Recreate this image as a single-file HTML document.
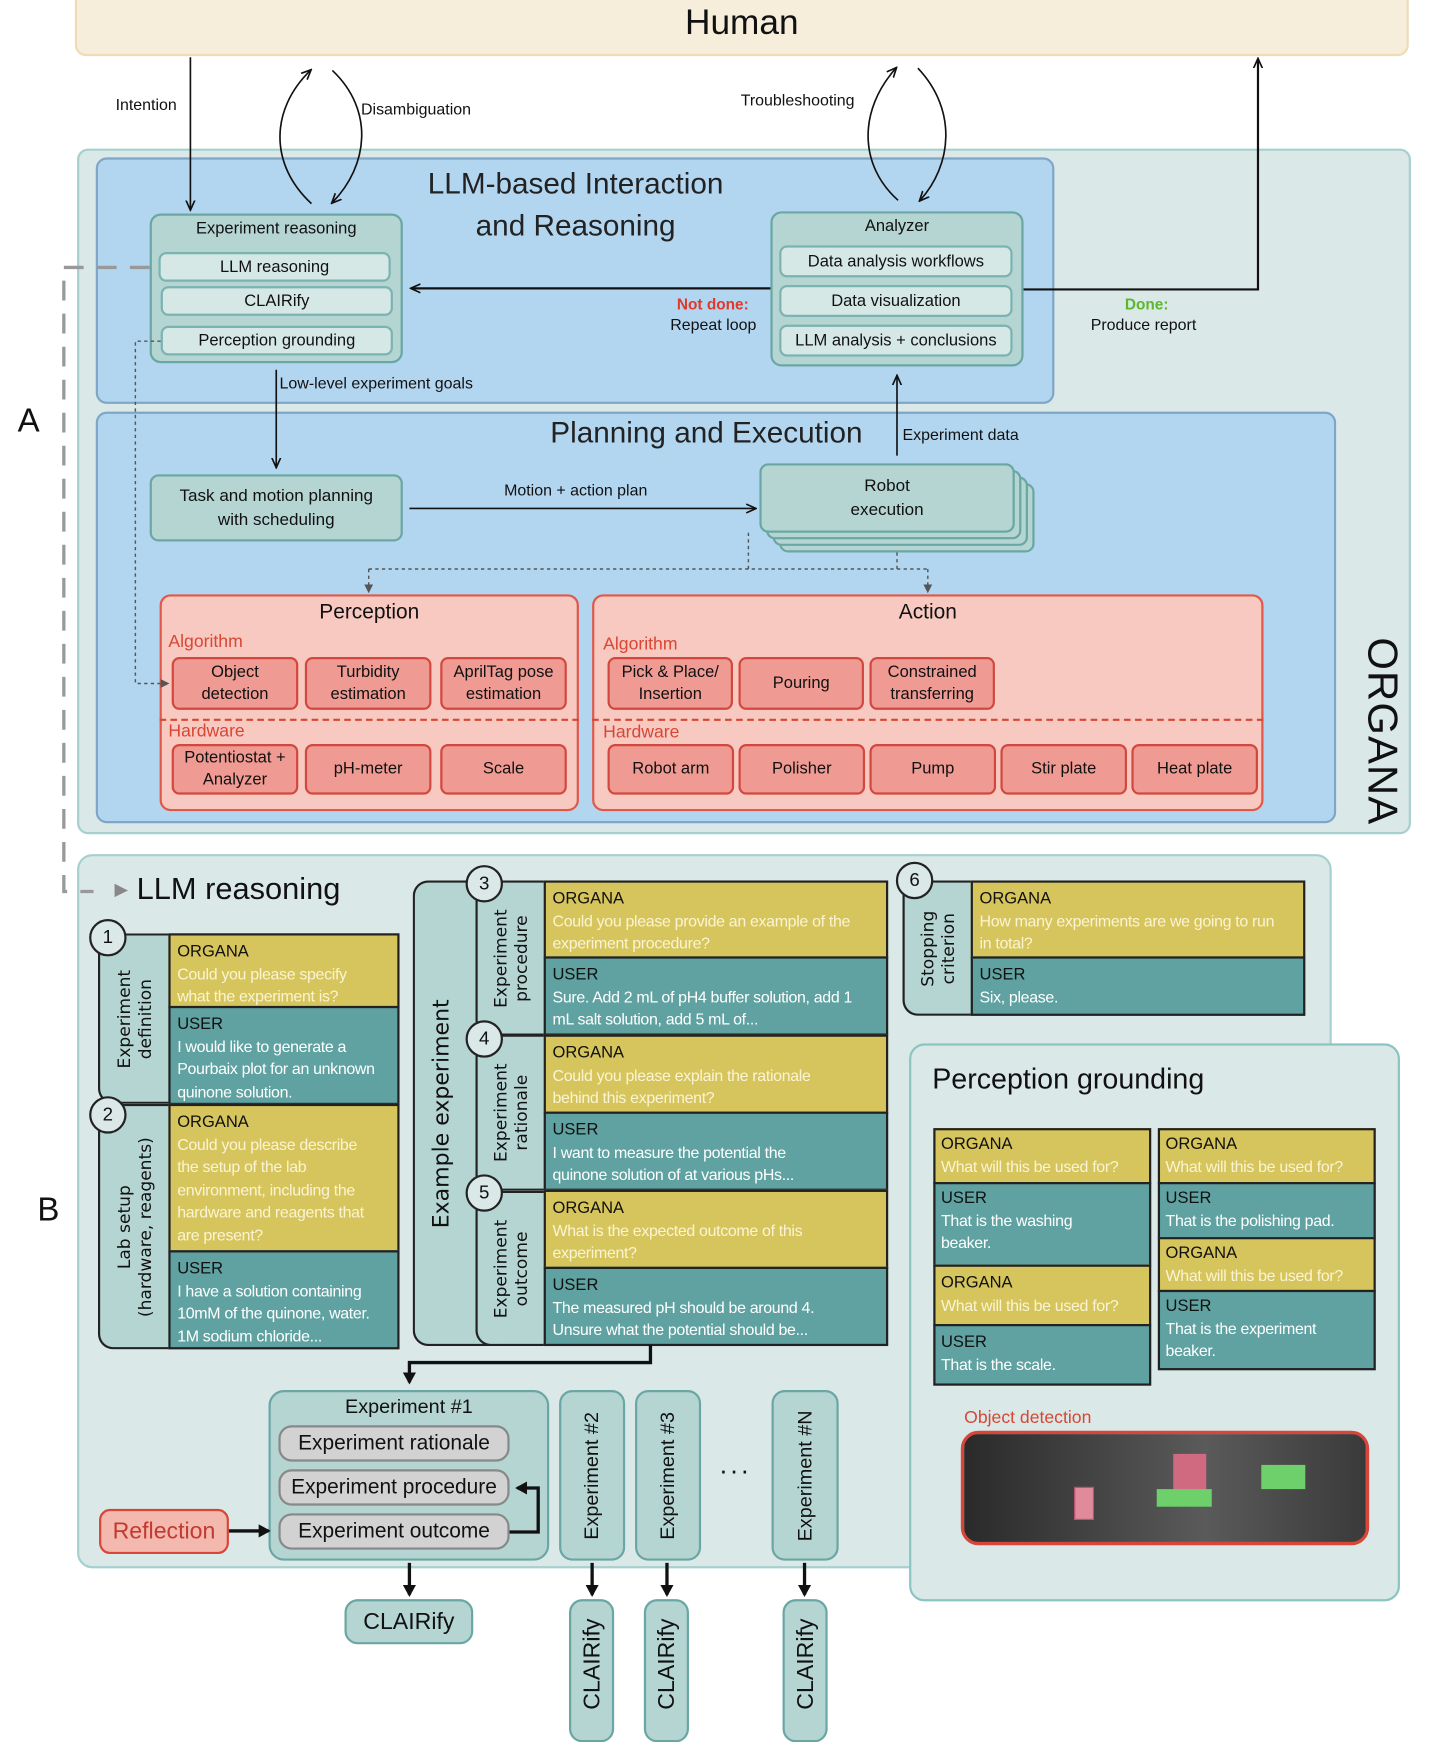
<!DOCTYPE html>
<html><head><meta charset="utf-8">
<style>
*{box-sizing:border-box;margin:0;padding:0}
html,body{width:1432px;height:1726px;overflow:hidden;background:#fff}
#w{position:absolute;left:0;top:0;width:1302px;height:1569px;transform:scale(1.1006);transform-origin:0 0;font-family:"Liberation Sans",sans-serif;color:#111}
.a{position:absolute}
.t{position:absolute;white-space:nowrap}
.box{position:absolute;border-radius:10px}
.teal{background:#b5d5d3;border:2px solid #6aa6a3}
.item{position:absolute;background:#d6e8e6;border:2px solid #7ab3b0;border-radius:7px;font-size:15px;text-align:center;display:flex;align-items:center;justify-content:center}
.pk{position:absolute;background:#ef9a92;border:2px solid #d2483e;border-radius:7px;font-size:15px;text-align:center;display:flex;align-items:center;justify-content:center;line-height:20px}
.red{color:#d84634;font-size:16px}
.c{position:absolute;display:flex;align-items:center;justify-content:center;text-align:center}
.y{position:absolute;background:#d6c55c;border:2px solid #222;padding:5px 6px;font-size:14.5px;line-height:20.5px;color:#fbf4d4;letter-spacing:-0.3px}
.g{position:absolute;background:#5fa2a1;border:2px solid #222;padding:5px 6px;font-size:14.5px;line-height:20.5px;color:#fff;letter-spacing:-0.3px}
.y b,.g b{display:block;color:#111;font-weight:normal;font-size:15px;letter-spacing:0}
.strip{position:absolute;background:#b5d5d3;border:2px solid #222;border-right:none;border-radius:14px 0 0 14px}
.vl{position:absolute;left:50%;top:50%;transform:translate(-50%,-50%) rotate(-90deg);white-space:nowrap;text-align:center;font-family:"DejaVu Sans",sans-serif;font-size:15.5px;line-height:19px}
.circ{position:absolute;width:34px;height:34px;border-radius:50%;background:#dae8e8;border:2px solid #222;font-size:17px;display:flex;align-items:center;justify-content:center}
.gray{position:absolute;background:#d2d2d2;border:2px solid #888;border-radius:12px;font-size:19px;display:flex;align-items:center;justify-content:center}
.clv{position:absolute;background:#b5d5d3;border:2px solid #6aa6a3;border-radius:12px}
</style></head><body><div id="w">

<div class="box" style="left:68px;top:-12px;width:1212px;height:63px;background:#f6eddb;border:2px solid #efdcb4"></div>
<div class="t" style="left:0;width:1348px;top:2px;text-align:center;font-size:32px">Human</div>

<div class="box" style="left:70px;top:135px;width:1212px;height:623px;background:#dae8e8;border:2px solid #a6d0cf"></div>
<div class="t" style="left:1165px;top:643px;font-size:38px;transform:rotate(90deg);transform-origin:center;width:180px;text-align:center;letter-spacing:1px">ORGANA</div>

<div class="box" style="left:87px;top:143px;width:871px;height:224px;background:#b3d6f0;border:2px solid #7fa6c6"></div>
<div class="t" style="left:330px;width:386px;top:148px;text-align:center;font-size:27px;line-height:38px;color:#222">LLM-based Interaction<br>and Reasoning</div>

<div class="box" style="left:87px;top:374px;width:1127px;height:374px;background:#b3d6f0;border:2px solid #7fa6c6"></div>
<div class="t" style="left:500px;top:378px;font-size:27px;color:#222">Planning and Execution</div>

<div class="box teal" style="left:136px;top:194px;width:230px;height:136px"></div>
<div class="t" style="left:136px;width:230px;top:199px;text-align:center;font-size:15px">Experiment reasoning</div>
<div class="item" style="left:144px;top:229px;width:211px;height:27px">LLM reasoning</div>
<div class="item" style="left:146px;top:260px;width:211px;height:27px">CLAIRify</div>
<div class="item" style="left:146px;top:296px;width:211px;height:27px">Perception grounding</div>

<div class="box teal" style="left:700px;top:192px;width:230px;height:141px"></div>
<div class="t" style="left:700px;width:230px;top:197px;text-align:center;font-size:15px">Analyzer</div>
<div class="item" style="left:708px;top:223px;width:212px;height:29px">Data analysis workflows</div>
<div class="item" style="left:708px;top:259px;width:212px;height:29px">Data visualization</div>
<div class="item" style="left:708px;top:295px;width:212px;height:29px">LLM analysis + conclusions</div>

<div class="t" style="left:615px;top:268px;font-size:14px;color:#e0392a;font-weight:bold">Not done:</div>
<div class="t" style="left:609px;top:288px;font-size:14.5px">Repeat loop</div>
<div class="t" style="left:1022px;top:268px;font-size:14px;color:#5cb82e;font-weight:bold">Done:</div>
<div class="t" style="left:991px;top:288px;font-size:14.5px">Produce report</div>
<div class="t" style="left:105px;top:88px;font-size:14.5px">Intention</div>
<div class="t" style="left:328px;top:92px;font-size:14.5px">Disambiguation</div>
<div class="t" style="left:673px;top:84px;font-size:14.5px">Troubleshooting</div>
<div class="t" style="left:254px;top:341px;font-size:14.5px">Low-level experiment goals</div>
<div class="t" style="left:820px;top:388px;font-size:14.5px">Experiment data</div>
<div class="t" style="left:458px;top:438px;font-size:14.5px">Motion + action plan</div>

<div class="box teal c" style="left:136px;top:431px;width:230px;height:61px;font-size:15.5px;line-height:22px;border-radius:8px">Task and motion planning<br>with scheduling</div>
<div class="box teal" style="left:708px;top:439px;width:232px;height:63px;border-radius:8px"></div>
<div class="box teal" style="left:702px;top:433px;width:232px;height:63px;border-radius:8px"></div>
<div class="box teal" style="left:696px;top:427px;width:232px;height:63px;border-radius:8px"></div>
<div class="box teal c" style="left:690px;top:421px;width:232px;height:63px;font-size:15.5px;line-height:22px;border-radius:8px">Robot<br>execution</div>

<div class="box" style="left:145px;top:540px;width:381px;height:197px;background:#f7c9c1;border:2px solid #e0584a"></div>
<div class="t" style="left:145px;width:381px;top:546px;text-align:center;font-size:19px">Perception</div>
<div class="t red" style="left:153px;top:575px">Algorithm</div>
<div class="pk" style="left:156px;top:597px;width:115px;height:48px">Object<br>detection</div>
<div class="pk" style="left:277px;top:597px;width:115px;height:48px">Turbidity<br>estimation</div>
<div class="pk" style="left:400px;top:597px;width:115px;height:48px">AprilTag pose<br>estimation</div>
<div class="a" style="left:145px;top:653px;width:381px;border-top:2px dashed #d84634"></div>
<div class="t red" style="left:153px;top:656px">Hardware</div>
<div class="pk" style="left:156px;top:676px;width:115px;height:46px">Potentiostat +<br>Analyzer</div>
<div class="pk" style="left:277px;top:676px;width:115px;height:46px">pH-meter</div>
<div class="pk" style="left:400px;top:676px;width:115px;height:46px">Scale</div>

<div class="box" style="left:538px;top:540px;width:610px;height:197px;background:#f7c9c1;border:2px solid #e0584a"></div>
<div class="t" style="left:538px;width:610px;top:546px;text-align:center;font-size:19px">Action</div>
<div class="t red" style="left:548px;top:577px">Algorithm</div>
<div class="pk" style="left:552px;top:597px;width:114px;height:48px">Pick &amp; Place/<br>Insertion</div>
<div class="pk" style="left:671px;top:597px;width:114px;height:48px">Pouring</div>
<div class="pk" style="left:790px;top:597px;width:114px;height:48px">Constrained<br>transferring</div>
<div class="a" style="left:538px;top:653px;width:610px;border-top:2px dashed #d84634"></div>
<div class="t red" style="left:548px;top:657px">Hardware</div>
<div class="pk" style="left:552px;top:676px;width:115px;height:46px">Robot arm</div>
<div class="pk" style="left:671px;top:676px;width:115px;height:46px">Polisher</div>
<div class="pk" style="left:790px;top:676px;width:115px;height:46px">Pump</div>
<div class="pk" style="left:909px;top:676px;width:115px;height:46px">Stir plate</div>
<div class="pk" style="left:1028px;top:676px;width:115px;height:46px">Heat plate</div>

<div class="t" style="left:16px;top:366px;font-size:30px">A</div>
<div class="t" style="left:34px;top:1083px;font-size:30px">B</div>

<div class="box" style="left:70px;top:776px;width:1140px;height:649px;background:#dae8e8;border:2px solid #a6d0cf;border-radius:14px"></div>
<div class="t" style="left:104px;top:792px;font-size:28px"><span style="font-size:16px;color:#888;vertical-align:4px">▶</span> LLM reasoning</div>

<div class="strip" style="left:89px;top:848px;width:65px;height:155px"><div class="vl">Experiment<br>definition</div></div>
<div class="y" style="left:153px;top:848px;width:210px;height:68px;padding-right:20px"><b>ORGANA</b>Could you please specify what the experiment is?</div>
<div class="g" style="left:153px;top:914px;width:210px;height:90px"><b>USER</b>I would like to generate a Pourbaix plot for an unknown quinone solution.</div>
<div class="circ" style="left:81px;top:835px">1</div>
<div class="strip" style="left:89px;top:1003px;width:65px;height:223px"><div class="vl">Lab setup<br>(hardware, reagents)</div></div>
<div class="y" style="left:153px;top:1003px;width:210px;height:135px;padding-right:14px"><b>ORGANA</b>Could you please describe the setup of the lab environment, including the hardware and reagents that are present?</div>
<div class="g" style="left:153px;top:1136px;width:210px;height:90px"><b>USER</b>I have a solution containing 10mM of the quinone, water. 1M sodium chloride...</div>
<div class="circ" style="left:81px;top:996px">2</div>

<div class="a" style="left:375px;top:800px;width:80px;height:423px;background:#b5d5d3;border:2px solid #222;border-right:none;border-radius:14px 0 0 14px"><div class="vl" style="font-size:20px;left:24px">Example experiment</div></div>
<div class="strip" style="left:432px;top:800px;width:63px;height:141px"><div class="vl">Experiment<br>procedure</div></div>
<div class="strip" style="left:432px;top:940px;width:63px;height:142px"><div class="vl">Experiment<br>rationale</div></div>
<div class="strip" style="left:432px;top:1082px;width:63px;height:141px"><div class="vl">Experiment<br>outcome</div></div>
<div class="y" style="left:494px;top:800px;width:313px;height:71px;padding-right:24px"><b>ORGANA</b>Could you please provide an example of the experiment procedure?</div>
<div class="g" style="left:494px;top:869px;width:313px;height:72px;padding-right:14px"><b>USER</b>Sure. Add 2 mL of pH4 buffer solution, add 1 mL salt solution, add 5 mL of...</div>
<div class="y" style="left:494px;top:940px;width:313px;height:72px;padding-right:24px"><b>ORGANA</b>Could you please explain the rationale behind this experiment?</div>
<div class="g" style="left:494px;top:1010px;width:313px;height:72px;padding-right:40px"><b>USER</b>I want to measure the potential the quinone solution of at various pHs...</div>
<div class="y" style="left:494px;top:1081px;width:313px;height:72px;padding-right:40px"><b>ORGANA</b>What is the expected outcome of this experiment?</div>
<div class="g" style="left:494px;top:1151px;width:313px;height:72px;padding-right:30px"><b>USER</b>The measured pH should be around 4. Unsure what the potential should be...</div>
<div class="circ" style="left:423px;top:786px">3</div>
<div class="circ" style="left:423px;top:927px">4</div>
<div class="circ" style="left:423px;top:1067px">5</div>

<div class="strip" style="left:820px;top:800px;width:63px;height:123px"><div class="vl">Stopping<br>criterion</div></div>
<div class="y" style="left:882px;top:800px;width:304px;height:71px;padding-right:20px"><b>ORGANA</b>How many experiments are we going to run in total?</div>
<div class="g" style="left:882px;top:869px;width:304px;height:54px"><b>USER</b>Six, please.</div>
<div class="circ" style="left:814px;top:783px">6</div>

<div class="box" style="left:826px;top:948px;width:446px;height:507px;background:#dae8e8;border:2px solid #8cc4c2;border-radius:14px"></div>
<div class="t" style="left:847px;top:965px;font-size:26px">Perception grounding</div>
<div class="y" style="left:848px;top:1025px;width:198px;height:51px;padding:3px 5px"><b>ORGANA</b>What will this be used for?</div>
<div class="g" style="left:848px;top:1074px;width:198px;height:77px;padding:3px 40px 3px 5px"><b>USER</b>That is the washing beaker.</div>
<div class="y" style="left:848px;top:1149px;width:198px;height:56px;padding:5px 5px"><b>ORGANA</b>What will this be used for?</div>
<div class="g" style="left:848px;top:1203px;width:198px;height:56px;padding:5px 5px"><b>USER</b>That is the scale.</div>
<div class="y" style="left:1052px;top:1025px;width:198px;height:51px;padding:3px 5px"><b>ORGANA</b>What will this be used for?</div>
<div class="g" style="left:1052px;top:1074px;width:198px;height:52px;padding:3px 5px"><b>USER</b>That is the polishing pad.</div>
<div class="y" style="left:1052px;top:1124px;width:198px;height:50px;padding:3px 5px"><b>ORGANA</b>What will this be used for?</div>
<div class="g" style="left:1052px;top:1172px;width:198px;height:73px;padding:3px 5px"><b>USER</b>That is the experiment beaker.</div>
<div class="t" style="left:876px;top:1280px;font-size:16px;color:#d84634">Object detection</div>
<div class="box" style="left:873px;top:1300px;width:371px;height:104px;background:linear-gradient(90deg,#2a2a2a,#4a4a4a 40%,#5a5a5a 60%,#3a3a3a);border:3px solid #d8463a;border-radius:16px;overflow:hidden">
 <div class="a" style="left:100px;top:48px;width:18px;height:30px;background:#e08a9a;border:1px solid #c05070"></div>
 <div class="a" style="left:190px;top:18px;width:30px;height:40px;background:#d06a80"></div>
 <div class="a" style="left:175px;top:50px;width:50px;height:16px;background:#6ed06a"></div>
 <div class="a" style="left:270px;top:28px;width:40px;height:22px;background:#6ed06a"></div>
</div>

<div class="box" style="left:244px;top:1263px;width:255px;height:155px;background:#b5d5d3;border:2px solid #6aa6a3;border-radius:14px"></div>
<div class="t" style="left:244px;width:255px;top:1268px;text-align:center;font-size:18px">Experiment #1</div>
<div class="gray" style="left:253px;top:1295px;width:210px;height:33px">Experiment rationale</div>
<div class="gray" style="left:253px;top:1335px;width:210px;height:33px">Experiment procedure</div>
<div class="gray" style="left:253px;top:1375px;width:210px;height:33px">Experiment outcome</div>
<div class="box c" style="left:90px;top:1371px;width:118px;height:41px;background:#f3b8ae;border:2px solid #d8463a;color:#c23a30;font-size:21px">Reflection</div>
<div class="clv" style="left:508px;top:1263px;width:60px;height:155px"><div class="vl" style="font-family:'Liberation Sans',sans-serif;font-size:18px">Experiment #2</div></div>
<div class="clv" style="left:577px;top:1263px;width:60px;height:155px"><div class="vl" style="font-family:'Liberation Sans',sans-serif;font-size:18px">Experiment #3</div></div>
<div class="t" style="left:654px;top:1318px;font-size:24px;letter-spacing:3px">...</div>
<div class="clv" style="left:701px;top:1263px;width:61px;height:155px"><div class="vl" style="font-family:'Liberation Sans',sans-serif;font-size:18px">Experiment #N</div></div>

<div class="box c" style="left:313px;top:1453px;width:117px;height:41px;background:#b5d5d3;border:2px solid #6aa6a3;border-radius:12px;font-size:21px">CLAIRify</div>
<div class="clv" style="left:517px;top:1453px;width:41px;height:130px"><div class="vl" style="font-family:'Liberation Sans',sans-serif;font-size:21px;top:45%">CLAIRify</div></div>
<div class="clv" style="left:585px;top:1453px;width:41px;height:130px"><div class="vl" style="font-family:'Liberation Sans',sans-serif;font-size:21px;top:45%">CLAIRify</div></div>
<div class="clv" style="left:711px;top:1453px;width:41px;height:130px"><div class="vl" style="font-family:'Liberation Sans',sans-serif;font-size:21px;top:45%">CLAIRify</div></div>

<svg class="a" style="left:0;top:0" width="1302" height="1569" viewBox="0 0 1302 1569">
<defs>
<marker id="ar" markerWidth="10" markerHeight="10" refX="8" refY="5" orient="auto" markerUnits="userSpaceOnUse"><path d="M0,1 L9,5 L0,9" fill="none" stroke="#111" stroke-width="1.5"/></marker>
<marker id="af" markerWidth="12" markerHeight="12" refX="9" refY="6" orient="auto" markerUnits="userSpaceOnUse"><path d="M0,0 L11,6 L0,12 z" fill="#111"/></marker>
<marker id="ad" markerWidth="8" markerHeight="8" refX="7" refY="4" orient="auto" markerUnits="userSpaceOnUse"><path d="M0,0 L8,4 L0,8 z" fill="#555"/></marker>
</defs>
<g fill="none" stroke="#111" stroke-width="1.5">
<path d="M173,52 V190" marker-end="url(#ar)"/>
<path d="M283,185 C245,150 245,100 282,64" marker-end="url(#ar)"/>
<path d="M302,64 C340,100 335,150 302,184" marker-end="url(#ar)"/>
<path d="M816,182 C780,150 780,100 814,62" marker-end="url(#ar)"/>
<path d="M834,62 C870,100 865,150 836,182" marker-end="url(#ar)"/>
<path d="M930,263 H1143 V54" stroke-width="2" marker-end="url(#ar)"/>
<path d="M700,262 H374" stroke-width="2" marker-end="url(#ar)"/>
<path d="M251,336 V424" marker-end="url(#ar)"/>
<path d="M815,414 V342" marker-end="url(#ar)"/>
<path d="M372,462 H686" marker-end="url(#ar)"/>
</g>
<g fill="none" stroke="#555" stroke-width="1.3" stroke-dasharray="3,3">
<path d="M680,484 V517 M815,502 V517 M335,517 H843"/>
<path d="M335,517 V538" marker-end="url(#ad)"/>
<path d="M843,517 V538" marker-end="url(#ad)"/>
<path d="M146,310 H123 V621 H153" marker-end="url(#ad)"/>
</g>
<g fill="none" stroke="#999" stroke-width="3" stroke-dasharray="18,12">
<path d="M136,243 H58 V810 H85"/>
</g>
<g fill="none" stroke="#111" stroke-width="3">
<path d="M591,1222 V1238 H372 V1256" marker-end="url(#af)"/>
<path d="M208,1391 H244" marker-end="url(#af)"/>
<path d="M463,1392 H489 V1352 H470" marker-end="url(#af)"/>
<path d="M372,1420 V1449" marker-end="url(#af)"/>
<path d="M538,1420 V1449" marker-end="url(#af)"/>
<path d="M606,1420 V1449" marker-end="url(#af)"/>
<path d="M731,1420 V1449" marker-end="url(#af)"/>
</g>
</svg>
</div></body></html>
